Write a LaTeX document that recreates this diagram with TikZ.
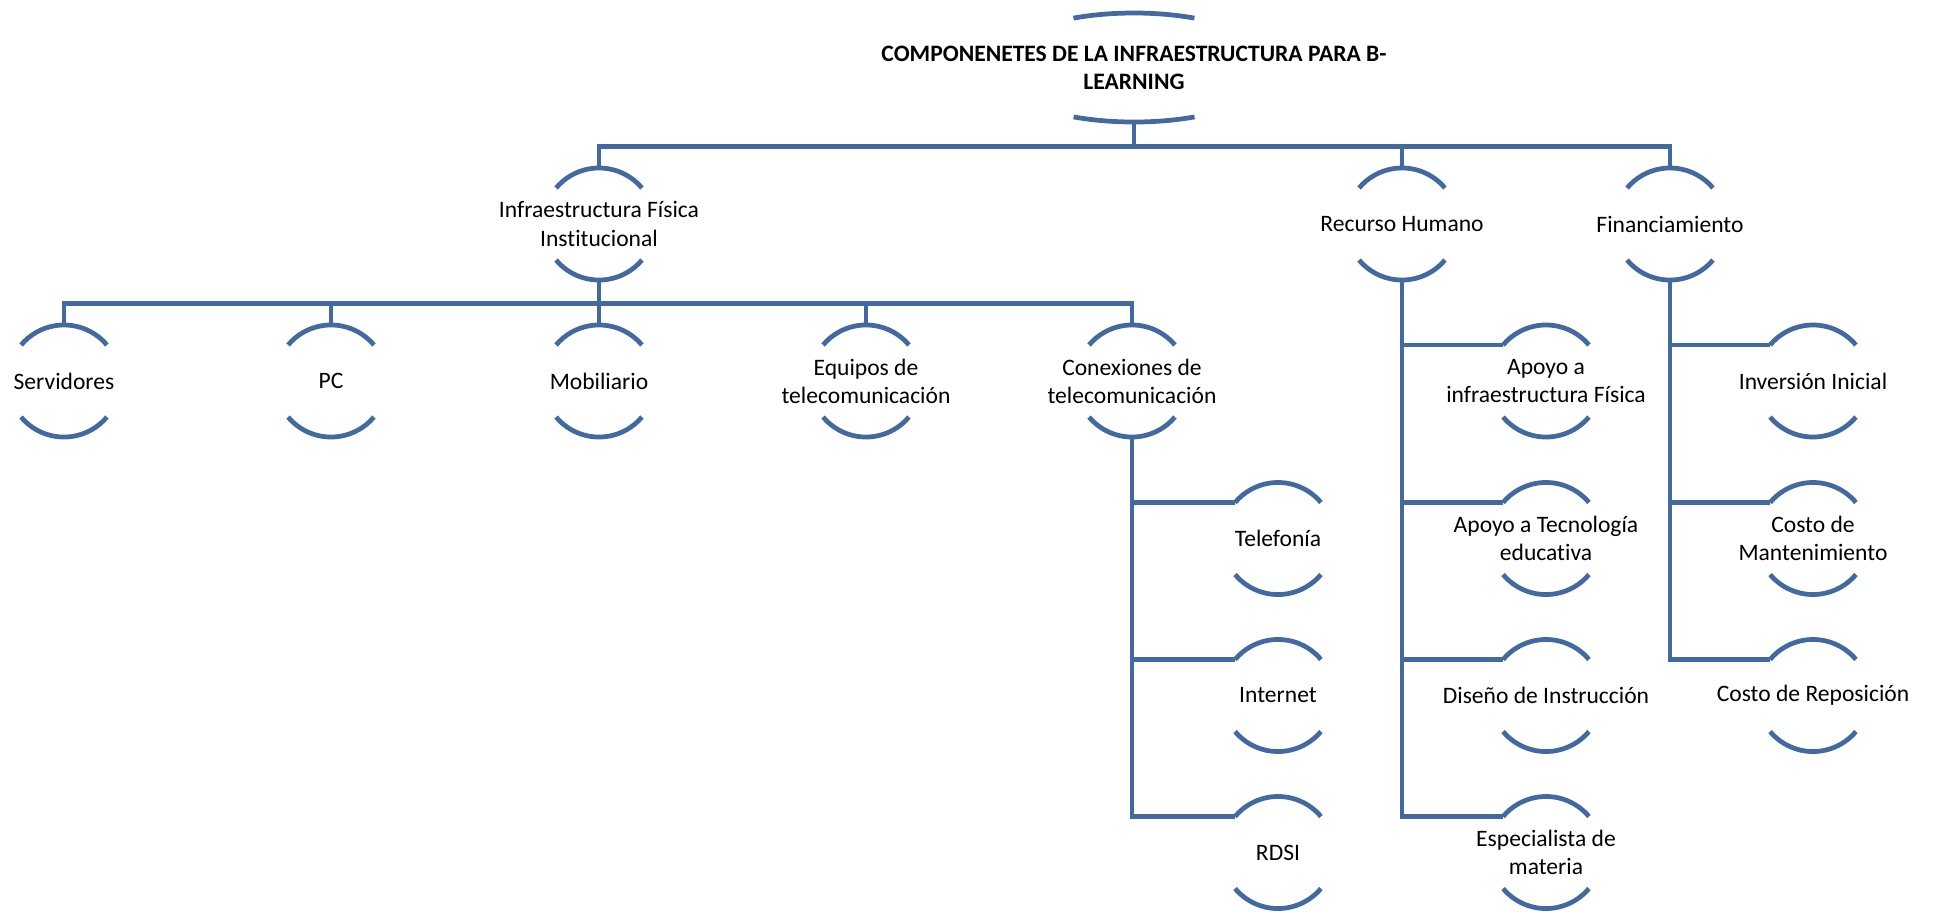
\documentclass[tikz,border=0pt]{standalone}
\usepackage{fontspec}
\setmainfont{Carlito}[Ligatures=NoCommon]
\definecolor{lineblue}{RGB}{66,106,160}
\begin{document}
\begin{tikzpicture}[
    x=0.01cm, y=0.01cm,
    item/.style={rectangle, minimum height=1.12cm, inner sep=0pt, align=center, font=\fontsize{6.7}{8}\selectfont},
    topitem/.style={rectangle, minimum height=1.09cm, inner sep=0pt, align=center, font=\fontsize{6.7}{8}\selectfont\bfseries},
    conn/.style={draw=lineblue, line width=1.35pt}
]
\useasboundingbox (0,0) rectangle (1936,-911);

% Top level
\node[topitem] (top) at (1134,-67.5) {COMPONENETES DE LA INFRAESTRUCTURA PARA B-\\LEARNING};

% Second level
\node[item] (ifi) at (599,-224) {Infraestructura Física\\Institucional};
\node[item] (rh) at (1402,-224) {Recurso Humano};
\node[item] (fin) at (1670,-224) {Financiamiento};

% Infraestructura row
\node[item] (srv) at (64,-381) {Servidores};
\node[item] (pc) at (331,-381) {PC};
\node[item] (mob) at (599,-381) {Mobiliario};
\node[item] (equ) at (866,-381) {Equipos de\\telecomunicación};
\node[item] (con) at (1132,-381) {Conexiones de\\telecomunicación};

% Conexiones column
\node[item] (tel) at (1278,-538.5) {Telefonía};
\node[item] (int) at (1278,-695.5) {Internet};
\node[item] (rdsi) at (1278,-852.5) {RDSI};

% Recurso Humano column
\node[item] (ainf) at (1546,-381) {Apoyo a\\infraestructura Física};
\node[item] (atec) at (1546,-538.5) {Apoyo a Tecnología\\educativa};
\node[item] (dis) at (1546,-695.5) {Diseño de Instrucción};
\node[item] (esp) at (1546,-852.5) {Especialista de\\materia};

% Financiamiento column
\node[item] (inv) at (1813,-381) {Inversión Inicial};
\node[item] (cman) at (1813,-538.5) {Costo de\\Mantenimiento};
\node[item] (crep) at (1813,-695.5) {Costo de Reposición};

% Arcs of the top node
\draw[conn] ([shift={(60.4,49.4)}]top.center) arc[start angle=65, end angle=115, x radius=1.43cm, y radius=0.545cm];
\draw[conn] ([shift={(-60.4,-49.4)}]top.center) arc[start angle=245, end angle=295, x radius=1.43cm, y radius=0.545cm];

% Arcs of the other nodes
\foreach \n in {ifi,rh,fin,srv,pc,mob,equ,con,tel,int,rdsi,ainf,atec,dis,esp,inv,cman,crep} {
    \draw[conn] ([shift={(40:0.56cm)}]\n.center) arc[start angle=40, end angle=140, radius=0.56cm];
    \draw[conn] ([shift={(220:0.56cm)}]\n.center) arc[start angle=220, end angle=320, radius=0.56cm];
}

% Connect top to second level
\foreach \n in {ifi,rh,fin}
    \draw[conn] (top.south) -- ++(0,-24) -| (\n.north);

% Connect Infraestructura to its row
\foreach \n in {srv,pc,mob,equ,con}
    \draw[conn] (ifi.south) -- ++(0,-23) -| (\n.north);

% Connect the columns
\foreach \n in {tel,int,rdsi}
    \draw[conn] (con.south) |- ([shift={(140:0.56cm)}]\n.center);
\foreach \n in {ainf,atec,dis,esp}
    \draw[conn] (rh.south) |- ([shift={(140:0.56cm)}]\n.center);
\foreach \n in {inv,cman,crep}
    \draw[conn] (fin.south) |- ([shift={(140:0.56cm)}]\n.center);

\end{tikzpicture}
\end{document}
